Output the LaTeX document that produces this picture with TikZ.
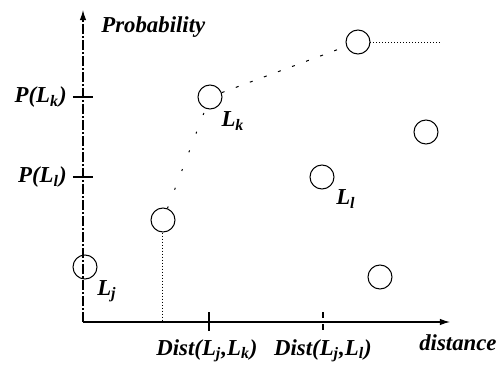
\documentclass[tikz,border=0pt]{standalone}
\usepackage{fontspec}
\setmainfont{Liberation Serif}
\usetikzlibrary{arrows.meta,positioning}

\begin{document}
\begin{tikzpicture}[x=0.5pt,y=-0.5pt,
    lbl/.style={font=\fontsize{11.4}{13}\selectfont\bfseries\itshape, inner sep=0pt},
    pt/.style={draw, circle, minimum size=12pt, inner sep=0pt, line width=0.5pt},
    axis/.style={line width=0.6pt, -{Latex[length=5pt,width=3.2pt]}},
    faint/.style={line width=0.5pt, dash pattern=on 1pt off 9pt}]
  \useasboundingbox (0,0) rectangle (500,370);

  % axes
  \coordinate (o) at (83,322);
  \coordinate (ytop) at (83,10);
  \coordinate (xend) at (450,322);
  \draw[axis, dash pattern=on 5pt off 1pt on 1pt off 1pt] (o) -- (ytop);
  \draw[axis] (o) -- (xend);
  \node[lbl, anchor=west] (ylab) at (101,27) {Probability};
  \node[lbl, anchor=east] (xlab) at (497,343) {distance};

  % ticks on the probability axis
  \draw[line width=0.6pt] (73,97) coordinate (tk) -- (93,97);
  \draw[line width=0.6pt] (73,177) coordinate (tl) -- (93,177);
  \node[lbl, anchor=east] (pk) at (67,97) {P(L\textsubscript{k})};
  \node[lbl, anchor=east] (pl) at (67,177) {P(L\textsubscript{l})};

  % ticks on the distance axis
  \draw[line width=0.6pt] (209,312) coordinate (dk) -- (209,331);
  \draw[line width=0.6pt, dashed] (323,312) coordinate (dl) -- (323,332);
  \node[lbl] (distk) at (207,351) {Dist(L\textsubscript{j},L\textsubscript{k})};
  \node[lbl] (distl) at (323,351) {Dist(L\textsubscript{j},L\textsubscript{l})};

  % points
  \node[pt] (cj) at (85,267) {};
  \node[pt] (cm) at (163,220) {};
  \node[pt] (ck) at (210,97) {};
  \node[pt] (ctop) at (358,42) {};
  \node[pt] (cl) at (322,177) {};
  \node[pt] (cright) at (426,132) {};
  \node[pt] (clow) at (380,277) {};
  \node[lbl] (lj) at (107,291) {L\textsubscript{j}};
  \node[lbl] (lk) at (233,121) {L\textsubscript{k}};
  \node[lbl] (ll) at (346,199) {L\textsubscript{l}};

  % connectors
  \coordinate (cmfoot) at (163,322);
  \coordinate (tail) at (440,42);
  \draw[line width=0.5pt, densely dotted] (cm) -- (cmfoot);
  \draw[faint] (cm) -- (ck);
  \draw[faint, dash pattern=on 1.5pt off 6pt] (ck) -- (ctop);
  \draw[line width=0.5pt, densely dotted] (ctop) -- (tail);
\end{tikzpicture}
\end{document}
